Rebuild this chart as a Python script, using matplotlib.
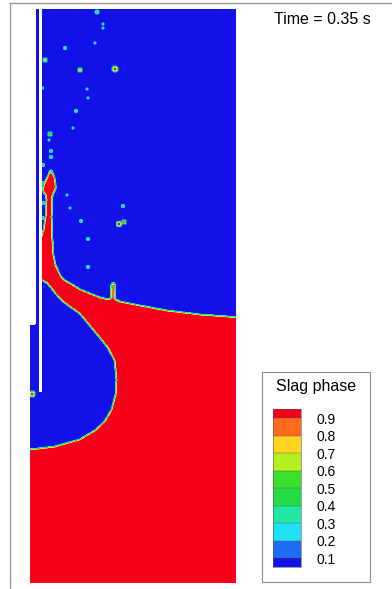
import numpy as np
import matplotlib.pyplot as plt
from matplotlib.path import Path
from matplotlib.lines import Line2D
from matplotlib.patches import Rectangle

plt.rcParams['font.family'] = ['Liberation Sans', 'DejaVu Sans']

# vessel section (mm)
width_mm = 206
height_mm = 574
step_x, step_y = 6, 258          # above step_y the fluid starts at step_x
lance_x = [9, 12]
lance_bottom = 191

# outline of the slag region (volume fraction = 1 inside)
slag_x = [-5, -5, 0, 25, 50, 65, 75, 82, 86, 87, 85, 78, 70, 60, 50, 40, 32, 25, 18, 13,
          11, 11, 14, 16, 17, 16, 13.5, 14, 18, 21, 24, 25.5, 23, 21.5, 21, 22, 23, 25,
          30, 35, 42, 50, 60, 70, 79, 81, 81.5, 82, 84, 84.5, 84, 90, 110, 137, 170, 211, 211]
slag_y = [-5, 133, 133, 136, 143, 152, 161, 173, 188, 203, 223, 236, 246, 258, 270, 277, 283, 291, 300, 303,
          303, 343, 353, 366, 383, 389, 391, 398, 406, 413, 405, 395, 390, 386, 366, 343, 328, 318,
          307, 302, 298, 293, 289, 285, 283, 284, 293, 299, 300, 293, 284, 281, 277, 272, 268, 265, -5]

# droplets and wall film: centre (mm), radius (mm), peak volume fraction
drop_x = [67, 73, 73, 65, 35, 15, 50, 85, 57, 58, 46, 43, 20, 19, 21, 21, 37, 40, 51, 93,
          89, 94, 58, 58, 12.5, 2, 13, 13, 13, 13, 13]
drop_y = [571, 559, 555, 540, 535, 523, 513, 514, 494, 485, 472, 455, 449, 443, 432, 426, 388, 375, 362, 377,
          359, 361, 344, 316, 495, 189, 418, 400, 380, 365, 350]
drop_r = [1.6, 1.1, 1.1, 1.0, 1.4, 1.7, 1.8, 2.3, 1.1, 1.0, 1.4, 1.1, 2.0, 1.0, 1.3, 1.3, 1.1, 1.2, 1.3, 1.5,
          2.0, 1.6, 1.3, 1.3, 1.3, 2.4, 1.4, 1.4, 1.4, 1.4, 1.4]
drop_peak = [0.5, 0.3, 0.3, 0.3, 0.4, 0.7, 0.7, 0.95, 0.3, 0.3, 0.4, 0.3, 0.55, 0.3, 0.45, 0.45, 0.3, 0.3, 0.4, 0.45,
             0.95, 0.85, 0.4, 0.4, 0.35, 0.95, 0.5, 0.45, 0.5, 0.45, 0.5]

levels = [0.1, 0.2, 0.3, 0.4, 0.5, 0.6, 0.7, 0.8, 0.9]
# below 0.1, the eight bands, above 0.9
band_colors = ['#1212e8', '#1f6cf5', '#1fe0f5', '#22e8a5', '#22de45',
               '#3ae02a', '#b4ef1f', '#ffd51f', '#ff6a1f', '#f70019']
time_s = 0.35


def blur(a, sigma):
    n = int(3 * sigma) + 1
    k = np.exp(-0.5 * (np.arange(-n, n + 1) / sigma) ** 2)
    k /= k.sum()
    p = np.pad(a, ((n, n), (0, 0)), mode='edge')
    a = sum(w * p[i:i + a.shape[0]] for i, w in enumerate(k))
    p = np.pad(a, ((0, 0), (n, n)), mode='edge')
    a = sum(w * p[:, i:i + a.shape[1]] for i, w in enumerate(k))
    return a


# volume fraction on a 0.5 mm grid
xs = np.arange(0, width_mm + 0.25, 0.5)
ys = np.arange(0, height_mm + 0.25, 0.5)
X, Y = np.meshgrid(xs, ys)
outline = Path(np.column_stack([slag_x, slag_y]))
alpha = outline.contains_points(np.column_stack([X.ravel(), Y.ravel()])).reshape(X.shape)
alpha = blur(alpha.astype(float), 1.9)

for cx, cy, r, pk in zip(drop_x, drop_y, drop_r, drop_peak):
    d2 = (X - cx) ** 2 + (Y - cy) ** 2
    alpha = np.maximum(alpha, pk * np.exp(-d2 / r ** 2))

solid = ((X < step_x) & (Y > step_y)) | \
        ((X >= lance_x[0]) & (X <= lance_x[1]) & (Y >= lance_bottom))
alpha = np.ma.masked_where(solid, alpha)

fig = plt.figure(figsize=(3.92, 5.89), dpi=100)
W, H = 392, 589

ax = fig.add_axes([30 / W, 6 / H, width_mm / W, height_mm / H])
cs = ax.contourf(X, Y, alpha, levels=levels, colors=band_colors, extend='both')
ax.set_xlim(0, width_mm)
ax.set_ylim(0, height_mm)
ax.axis('off')

# legend box with the colour key
fig.add_artist(Rectangle((262 / W, 7 / H), 108 / W, 210 / H, transform=fig.transFigure,
                         fill=False, ec='#8c8c8c', lw=0.8))
fig.text(316 / W, 1 - 386 / H, 'Slag phase', ha='center', va='center', fontsize=11.5)
cax = fig.add_axes([273 / W, 1 - 567.3 / H, 28 / W, 158 / H])
cb = fig.colorbar(cs, cax=cax, ticks=levels, extendrect=True, extendfrac=0.065,
                  drawedges=True, format='%.1f')
cb.outline.set_edgecolor('#555555')
cb.outline.set_linewidth(0.4)
cb.dividers.set_color('#555555')
cb.dividers.set_linewidth(0.3)
cax.tick_params(length=0, labelsize=10, pad=11)

fig.text(322 / W, 1 - 20 / H, f'Time = {time_s} s', ha='center', va='center', fontsize=11.5)

# frame lines
fig.add_artist(Line2D([10 / W, 1], [1 - 3 / H, 1 - 3 / H], transform=fig.transFigure,
                      color='#9a9a9a', lw=1))
fig.add_artist(Line2D([10 / W, 10 / W], [0, 1 - 3 / H], transform=fig.transFigure,
                      color='#9a9a9a', lw=1))

fig.savefig('out.png', dpi=100)
